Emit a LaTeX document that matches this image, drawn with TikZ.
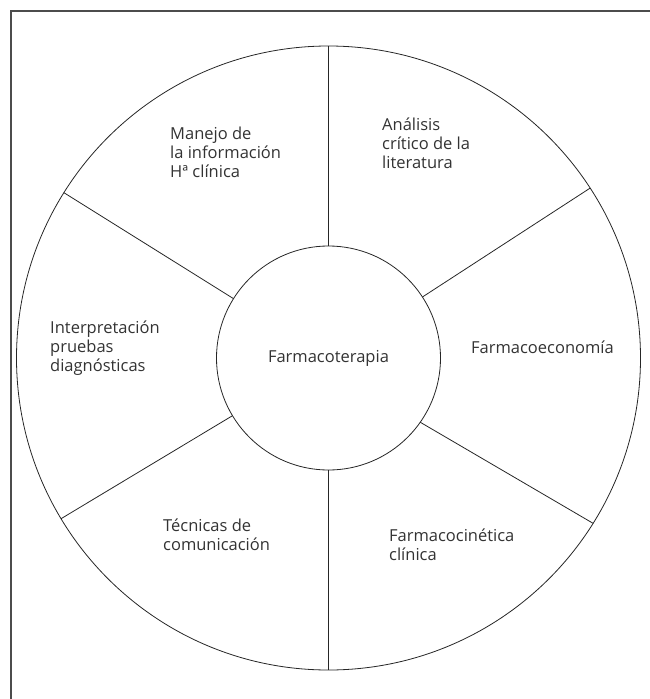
\documentclass[tikz,border=0pt]{standalone}
\usepackage{fontspec}
\setmainfont{Open Sans}
\begin{document}
\begin{tikzpicture}[x=1pt,y=-1pt,
  lbl/.style={align=left, anchor=north west, inner sep=0pt, text=black!80,
    font=\fontsize{16.5}{19}\selectfont},
  ring/.style={circle, draw=black!85, line width=0.8pt, outer sep=0pt, inner sep=0pt},
  spoke/.style={draw=black!85, line width=0.8pt},
  frame/.style={draw=black!70, line width=1.6pt}]
\useasboundingbox (0,0) rectangle (650,699);
\coordinate (c) at (328.5,358);
\coordinate (fb) at (11,720);
\coordinate (fc) at (11,11);
\coordinate (fr) at (680,11);
\draw[frame] (fb) -- (fc) -- (fr);
\node[ring, minimum size=624pt] (outer) at (c) {};
\node[ring, minimum size=224pt, text=black!80, font=\fontsize{16.5}{19}\selectfont] (inner) at (c) {\raisebox{4pt}{Farmacoterapia}};
\draw[spoke] (inner.90) -- (outer.90);
\draw[spoke] (inner.33) -- (outer.33);
\draw[spoke] (inner.-35) -- (outer.-32);
\draw[spoke] (inner.-90) -- (outer.-90);
\draw[spoke] (inner.-149) -- (outer.-149);
\draw[spoke] (inner.148) -- (outer.148);
\node[lbl] (manejo) at (170,127) {Manejo de\\la información\\Hª clínica};
\node[lbl] (analisis) at (382,118) {Análisis\\crítico de la\\literatura};
\node[lbl, anchor=west] (econ) at (471,347) {Farmacoeconomía};
\node[lbl] (interp) at (50,321) {Interpretación\\pruebas\\diagnósticas};
\node[lbl] (tecnicas) at (163,519) {Técnicas de\\comunicación};
\node[lbl] (cinetica) at (389,529) {Farmacocinética\\clínica};
\end{tikzpicture}
\end{document}
